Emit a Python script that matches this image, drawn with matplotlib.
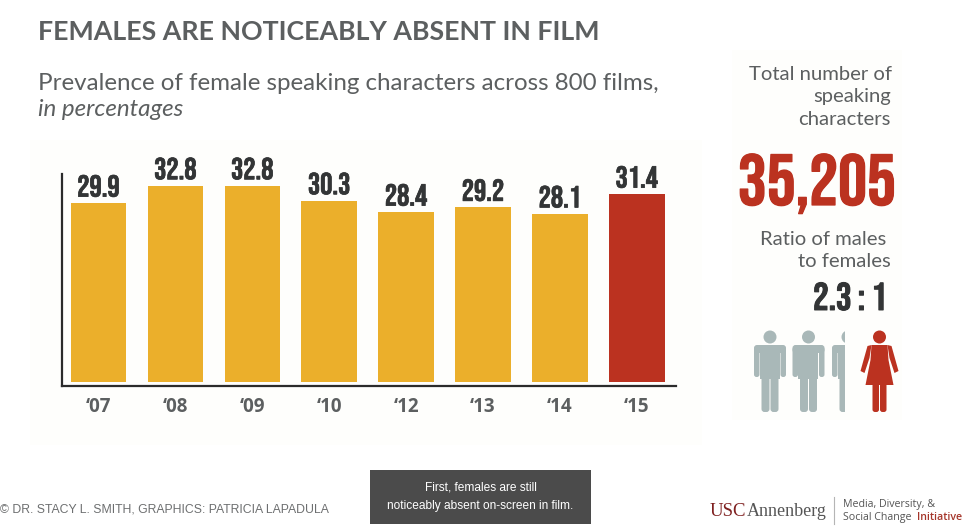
import matplotlib
matplotlib.use("Agg")
import matplotlib.pyplot as plt
import matplotlib.patheffects as pe
from matplotlib.patches import Rectangle, Circle, Polygon, FancyBboxPatch
from matplotlib import font_manager as fm

W, H = 970, 529
years = ["‘07", "‘08", "‘09", "‘10", "‘12", "‘13", "‘14", "‘15"]
values = [29.9, 32.8, 32.8, 30.3, 28.4, 29.2, 28.1, 31.4]
bar_colors = ["#ebaf2b"] * 7 + ["#bb3220"]
DARK = "#333536"
GREY = "#5c5f60"
RED = "#bb3220"
ICON = "#a9b8b8"

names = {f.name for f in fm.fontManager.ttflist}
def pick(*opts):
    for o in opts:
        if o in names:
            return o
    return "DejaVu Sans"
narrow = pick("Bebas Neue", "Oswald", "Liberation Sans Narrow", "Liberation Sans")
body = pick("Lato", "Open Sans")
ticks = "Open Sans"

def heavy(color, w=0.5):
    return [pe.withStroke(linewidth=w, foreground=color)]

fig = plt.figure(figsize=(W / 100, H / 100), dpi=100, facecolor="white")

bg = fig.add_axes([0, 0, 1, 1], zorder=0)
bg.set_xlim(0, W); bg.set_ylim(H, 0); bg.axis("off")
bg.add_patch(Rectangle((30, 140), 672, 305, fc="#fefefc", ec="none"))
bg.add_patch(Rectangle((732, 50), 170, 370, fc="#fefefc", ec="none"))

px_per_unit = 5.99
x0, x1, ytop, ybot, yzero = 62, 676, 174, 386, 382
ax = fig.add_axes([x0 / W, 1 - ybot / H, (x1 - x0) / W, (ybot - ytop) / H], zorder=1)
ax.patch.set_alpha(0)
pitch = 76.9
ax.set_xlim((x0 - 98.5) / pitch, (x1 - 98.5) / pitch)
ax.set_ylim(-(ybot - yzero) / px_per_unit, (yzero - ytop) / px_per_unit)
xs = list(range(len(values)))
ax.bar(xs, values, width=55.5 / pitch, color=bar_colors, linewidth=0)
for s in ("top", "right"):
    ax.spines[s].set_visible(False)
for s in ("left", "bottom"):
    ax.spines[s].set_color("#2b2b2b")
    ax.spines[s].set_linewidth(1.6)
ax.set_yticks([])
ax.set_xticks(xs)
ax.set_xticklabels(years, fontsize=13.5, fontweight="bold", color=GREY, family=ticks)
ax.tick_params(axis="x", length=0, pad=8)
for x, v in zip(xs, values):
    ax.annotate(f"{v}", (x, v), xytext=(0, 4.5), textcoords="offset points", ha="center", va="bottom",
                fontsize=22, fontweight="bold", color=DARK, family=narrow, path_effects=heavy(DARK))

def t(x, y, s, **kw):
    kw.setdefault("va", "baseline")
    kw.setdefault("family", body)
    return bg.text(x, y, s, **kw)

t(38, 40, "FEMALES ARE NOTICEABLY ABSENT IN FILM", fontsize=19.3, fontweight="bold", color=GREY)
t(38, 90, "Prevalence of female speaking characters across 800 films,", fontsize=17.4, color=GREY)
t(38, 116, "in percentages", fontsize=17.4, color=GREY, style="italic")

for y, s in zip((80, 102, 125), ("Total number of", "speaking", "characters")):
    t(892 if y == 80 else 891, y, s, fontsize=14.6, color=GREY, ha="right")
t(896, 184, "35,205", fontsize=52, fontweight="bold", color=RED, ha="right", family=narrow, va="center",
  path_effects=heavy(RED, 0.9))
t(886, 245, "Ratio of males", fontsize=14.6, color=GREY, ha="right")
t(891, 267, "to females", fontsize=14.6, color=GREY, ha="right")
t(887, 296, "2.3 : 1", fontsize=28, fontweight="bold", color=DARK, ha="right", family=narrow, va="center",
  path_effects=heavy(DARK, 0.7))

def man(cx, clip=None):
    parts = [
        Circle((cx, 337), 6.5),
        FancyBboxPatch((cx - 16, 345), 32, 8, boxstyle="round,pad=0,rounding_size=3"),
        Rectangle((cx - 10, 347), 20, 32),
        FancyBboxPatch((cx - 16, 347), 5.5, 30, boxstyle="round,pad=0,rounding_size=2.5"),
        FancyBboxPatch((cx + 10.5, 347), 5.5, 30, boxstyle="round,pad=0,rounding_size=2.5"),
        FancyBboxPatch((cx - 8.5, 375), 8, 37, boxstyle="round,pad=0,rounding_size=3"),
        FancyBboxPatch((cx + 0.5, 375), 8, 37, boxstyle="round,pad=0,rounding_size=3"),
    ]
    for p in parts:
        p.set(fc=ICON, ec="none")
        bg.add_patch(p)
        if clip is not None:
            p.set_clip_path(Rectangle((clip[0], 320), clip[1] - clip[0], 100, transform=bg.transData))

man(770)
man(808.5)
man(848, clip=(830, 845.5))

cx = 879.5
bg.add_patch(Circle((cx, 337), 6.5, fc=RED, ec="none"))
bg.add_patch(Polygon([(cx - 8, 345), (cx + 8, 345), (cx + 9, 360), (cx + 14, 385), (cx - 14, 385), (cx - 9, 360)],
                     fc=RED, ec="none"))
for sgn in (-1, 1):
    bg.add_patch(Polygon([(cx + sgn * 8, 345), (cx + sgn * 12, 346), (cx + sgn * 19, 371), (cx + sgn * 15, 373),
                          (cx + sgn * 10, 358)], fc=RED, ec="none"))
for dx in (-7, 0.5):
    bg.add_patch(FancyBboxPatch((cx + dx, 383), 6.5, 29, boxstyle="round,pad=0,rounding_size=2.5", fc=RED, ec="none"))

bg.add_patch(Rectangle((370, 470), 221, 54, fc="#4b4b4b", ec="none"))
t(480.5, 488, "First, females are still", fontsize=8.6, color="white", ha="center", family="Liberation Sans", va="center")
t(480.5, 506, "noticeably absent on-screen in film.", fontsize=8.6, color="white", ha="center", family="Liberation Sans", va="center")

t(0, 510, "© DR. STACY L. SMITH, GRAPHICS: PATRICIA LAPADULA", fontsize=8.85, color="#6d6f70", family="Liberation Sans", va="center")

t(710, 516, "USC", fontsize=13.5, color="#7f2020", family="Liberation Serif")
t(747, 516, "Annenberg", fontsize=13, color="#555555", family="Liberation Serif")
bg.plot([834.5, 834.5], [497, 524], color="#b5b5b5", lw=0.8)
t(843, 507, "Media, Diversity, &", fontsize=7.7, color="#555555", family="Open Sans")
t(843, 520, "Social Change", fontsize=7.7, color="#555555", family="Open Sans")
t(917, 520, "Initiative", fontsize=7.7, color="#a5352a", fontweight="semibold", family="Open Sans")

fig.savefig("out.png", dpi=100, facecolor="white")
